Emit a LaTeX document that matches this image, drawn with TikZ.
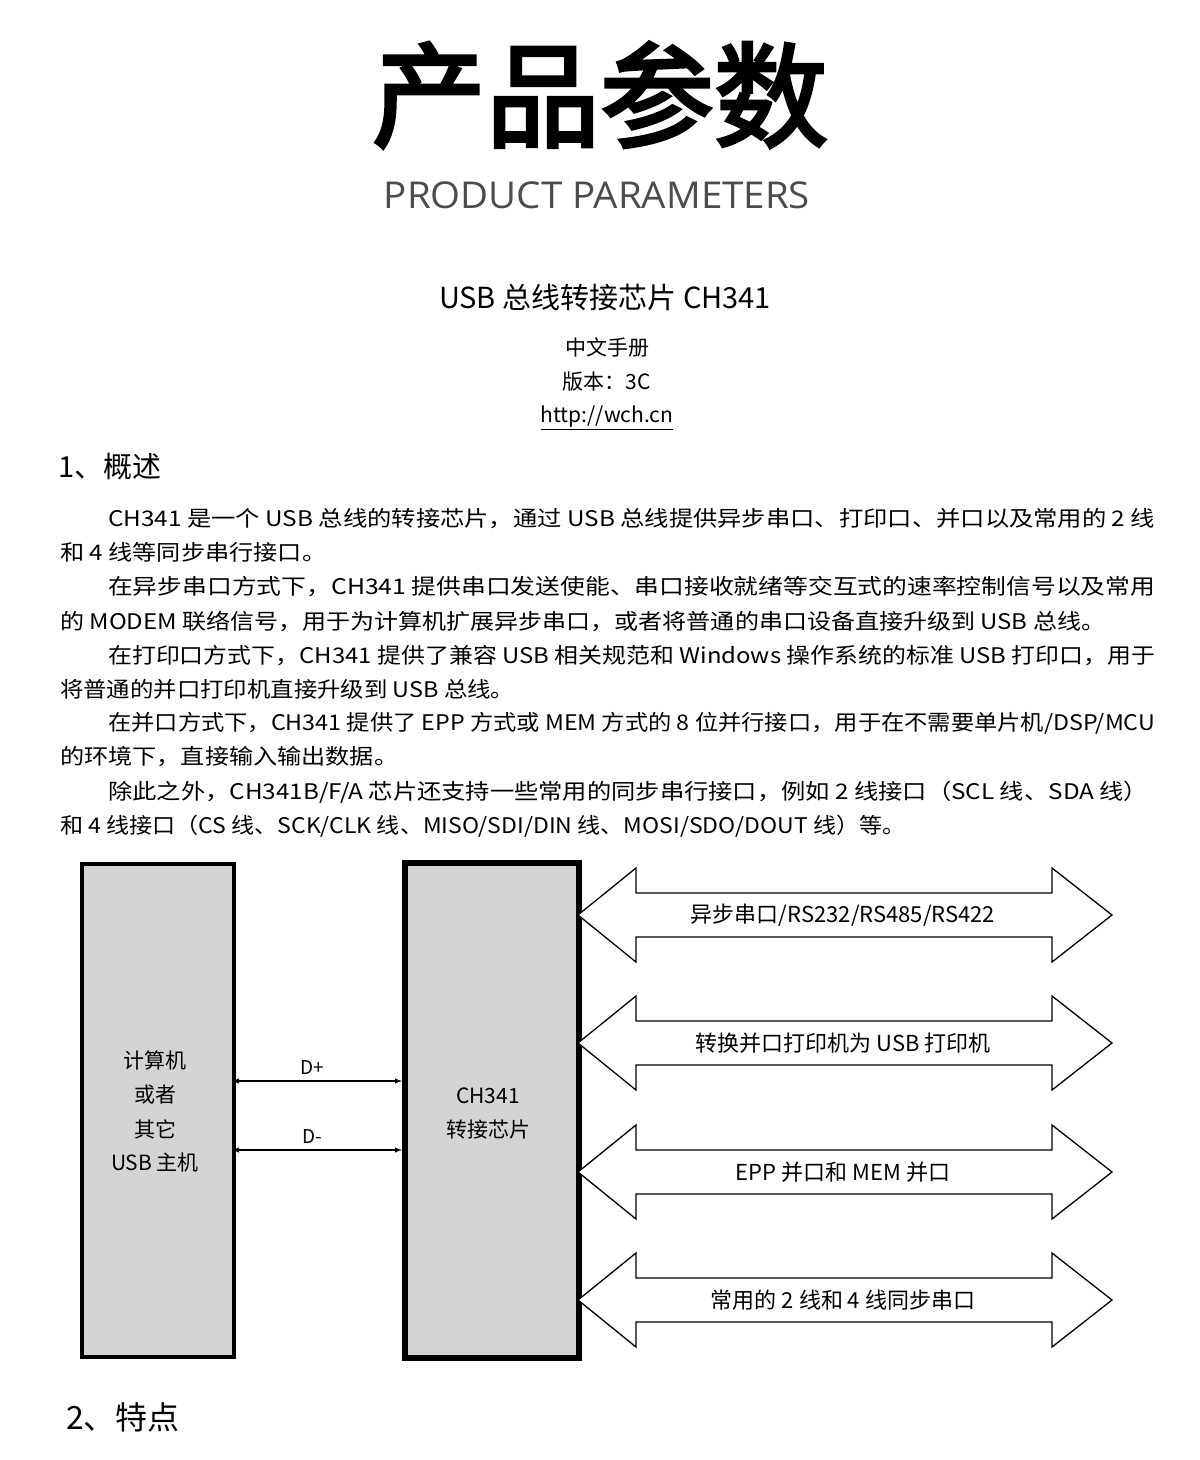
\documentclass[tikz,border=0pt]{standalone}
\usepackage{fontspec}
\usepackage{graphicx}
\setmainfont{Noto Sans CJK SC}
\newfontfamily\cjkb[FakeBold=3]{Noto Sans CJK SC}
\newfontfamily\latf{Open Sans}
\newlength\fitlen
\newcommand\fitline[2]{\settowidth\fitlen{#2}\pgfmathsetmacro\fitsc{#1/\fitlen}\scalebox{\fitsc}[1]{#2}}
\begin{document}
\begin{tikzpicture}[x=1pt,y=-1pt,
  box/.style={draw=black,fill=black!17,line width=4pt},
  para/.style={anchor=west,inner sep=0pt,font=\fontsize{21.5}{24}\selectfont},
  lbl/.style={inner sep=0pt,font=\fontsize{21}{25}\selectfont},
  arr/.style={draw=black,line width=1.3pt,fill=white},
  conn/.style={line width=1.4pt,<->,>=latex}]
\useasboundingbox (0,0) rectangle (1200,1460);
\fill[white] (0,0) rectangle (1200,1460);
\node (title) at (600,95) {\cjkb\fontsize{114}{114}\selectfont 产品参数};
\node[text=black!70] (sub) at (597,195) {\latf\fontsize{37}{37}\selectfont\scalebox{1.04}[1]{PRODUCT PARAMETERS}};
\node (h) at (605,297) {\fontsize{29}{30}\selectfont USB 总线转接芯片 CH341};
\node[lbl] (m1) at (607,348) {中文手册};
\node[lbl] (m2) at (607,382) {版本：3C};
\node[lbl] (m3) at (607,418) {\underline{http://wch.cn}};
\node[anchor=west,inner sep=0pt] (s1) at (58,467) {\fontsize{29}{30}\selectfont 1、概述};
\node[para] (p1) at (108,519) {\fitline{1047pt}{CH341 是一个 USB 总线的转接芯片，通过 USB 总线提供异步串口、打印口、并口以及常用的 2 线}};
\node[para] (p2) at (60,552) {\fitline{266pt}{和 4 线等同步串行接口。}};
\node[para] (p3) at (108,587) {\fitline{1047pt}{在异步串口方式下，CH341 提供串口发送使能、串口接收就绪等交互式的速率控制信号以及常用}};
\node[para] (p4) at (60,621) {\fitline{1045pt}{的 MODEM 联络信号，用于为计算机扩展异步串口，或者将普通的串口设备直接升级到 USB 总线。}};
\node[para] (p5) at (108,656) {\fitline{1047pt}{在打印口方式下，CH341 提供了兼容 USB 相关规范和 Windows 操作系统的标准 USB 打印口，用于}};
\node[para] (p6) at (60,689) {\fitline{454pt}{将普通的并口打印机直接升级到 USB 总线。}};
\node[para] (p7) at (108,723) {\fitline{1047pt}{在并口方式下，CH341 提供了 EPP 方式或 MEM 方式的 8 位并行接口，用于在不需要单片机/DSP/MCU}};
\node[para] (p8) at (60,757) {\fitline{338pt}{的环境下，直接输入输出数据。}};
\node[para] (p9) at (108,792) {\fitline{1040pt}{除此之外，CH341B/F/A 芯片还支持一些常用的同步串行接口，例如 2 线接口（SCL 线、SDA 线）}};
\node[para] (p10) at (60,826) {\fitline{845pt}{和 4 线接口（CS 线、SCK/CLK 线、MISO/SDI/DIN 线、MOSI/SDO/DOUT 线）等。}};
% boxes
\node[box,minimum width=152pt,minimum height=493pt,anchor=north west] (host) at (80,862) {};
\node[box,line width=6pt,minimum width=174pt,minimum height=495pt,anchor=north west] (chip) at (402,860) {};
\node[lbl] at (155,1060) {计算机};
\node[lbl] at (155,1095) {或者};
\node[lbl] at (155,1129) {其它};
\node[lbl] at (155,1163) {USB 主机};
\node[lbl] at (488,1096) {CH341};
\node[lbl] at (488,1130) {转接芯片};
\coordinate (a1) at (232,1081); \coordinate (b1) at (402,1081);
\coordinate (a2) at (232,1150); \coordinate (b2) at (402,1150);
\draw[conn] (a1) -- (b1);
\draw[conn] (a2) -- (b2);
\node[lbl,font=\fontsize{19}{20}\selectfont] at (312,1068) {D+};
\node[lbl,font=\fontsize{19}{20}\selectfont] at (312,1137) {D-};
% double arrows
\foreach \y/\t in {915/{异步串口/RS232/RS485/RS422},1043/{转换并口打印机为 USB 打印机},1172/{EPP 并口和 MEM 并口},1300/{常用的 2 线和 4 线同步串口}}{
  \draw[arr] (578,\y) -- (636,\y-47) -- (636,\y-22) -- (1052,\y-22) -- (1052,\y-47) -- (1112,\y) -- (1052,\y+47) -- (1052,\y+22) -- (636,\y+22) -- (636,\y+47) -- cycle;
  \node[lbl,font=\fontsize{22}{25}\selectfont] at (843,\y) {\t};
}
\node[anchor=west,inner sep=0pt] (s2) at (66,1417) {\fontsize{32}{32}\selectfont 2、特点};
\end{tikzpicture}
\end{document}
